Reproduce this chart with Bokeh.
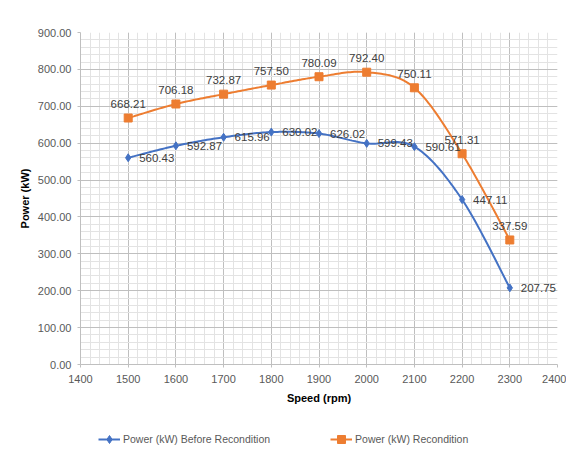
import numpy as np
from bokeh.plotting import figure
from bokeh.layouts import column
from bokeh.models import (SingleIntervalTicker, NumeralTickFormatter, Legend, LegendItem,
                          ColumnDataSource, Range1d, LabelSet)
from bokeh.core.properties import value
from bokeh.embed import file_html
from bokeh.resources import INLINE

speed = [1500, 1600, 1700, 1800, 1900, 2000, 2100, 2200, 2300]
power_before = [560.43, 592.87, 615.96, 630.02, 626.02, 599.43, 590.61, 447.11, 207.75]
power_recond = [668.21, 706.18, 732.87, 757.50, 780.09, 792.40, 750.11, 571.31, 337.59]
series_names = ["Power (kW) Before Recondition", "Power (kW) Recondition"]

BLUE = "#4472C4"
ORANGE = "#ED7D31"
FONT = "Liberation Sans"


def smooth(xs, ys, n=24):
    # Catmull-Rom style Bezier smoothing (like spreadsheet "smoothed line")
    xs = np.asarray(xs, float)
    ys = np.asarray(ys, float)
    px = np.concatenate([[xs[0]], xs, [xs[-1]]])
    py = np.concatenate([[ys[0]], ys, [ys[-1]]])
    ox, oy = [], []
    t = np.linspace(0, 1, n)
    for i in range(1, len(px) - 2):
        p0x, p1x, p2x, p3x = px[i - 1], px[i], px[i + 1], px[i + 2]
        p0y, p1y, p2y, p3y = py[i - 1], py[i], py[i + 1], py[i + 2]
        c1x = p1x + (p2x - p0x) / 6
        c1y = p1y + (p2y - p0y) / 6
        c2x = p2x - (p3x - p1x) / 6
        c2y = p2y - (p3y - p1y) / 6
        bx = (1 - t) ** 3 * p1x + 3 * (1 - t) ** 2 * t * c1x + 3 * (1 - t) * t ** 2 * c2x + t ** 3 * p2x
        by = (1 - t) ** 3 * p1y + 3 * (1 - t) ** 2 * t * c1y + 3 * (1 - t) * t ** 2 * c2y + t ** 3 * p2y
        ox.extend(bx.tolist())
        oy.extend(by.tolist())
    return ox, oy


p = figure(width=566, height=412, output_backend="svg", toolbar_location=None,
           x_range=Range1d(1400, 2400), y_range=Range1d(0, 900),
           min_border_left=80, min_border_right=9, min_border_top=32, min_border_bottom=48)
p.outline_line_color = None
p.border_fill_color = "white"

xt = SingleIntervalTicker(interval=100, num_minor_ticks=5)
yt = SingleIntervalTicker(interval=100, num_minor_ticks=5)
p.xaxis.ticker = xt
p.yaxis.ticker = yt
p.yaxis.formatter = NumeralTickFormatter(format="0.00")

for g in (p.xgrid, p.ygrid):
    g.grid_line_color = "#BFBFBF"
    g.grid_line_width = 1
    g.minor_grid_line_color = "#E3E3E3"
    g.minor_grid_line_width = 1
p.xgrid.ticker = xt
p.ygrid.ticker = yt

for ax in (p.xaxis, p.yaxis):
    ax.axis_line_color = "#BFBFBF"
    ax.major_tick_line_color = "#BFBFBF"
    ax.major_tick_out = 3
    ax.major_tick_in = 0
    ax.minor_tick_out = 0
    ax.minor_tick_in = 0
    ax.major_label_text_font = FONT
    ax.major_label_text_font_size = "11px"
    ax.major_label_text_color = "#595959"
    ax.axis_label_text_font = FONT
    ax.axis_label_text_font_size = "11px"
    ax.axis_label_text_font_style = "bold"
    ax.axis_label_text_color = "#000000"

p.xaxis.axis_label = "Speed (rpm)"
p.yaxis.axis_label = "Power (kW)"
p.xaxis.major_label_standoff = 7
p.yaxis.major_label_standoff = 6
p.xaxis.axis_label_standoff = 6
p.yaxis.axis_label_standoff = 4

bx, by = smooth(speed, power_before)
rx, ry = smooth(speed, power_recond)

p.line(bx, by, line_color=BLUE, line_width=2)
p.line(rx, ry, line_color=ORANGE, line_width=2)
p.scatter(speed, power_before, marker="diamond", size=8, fill_color=BLUE, line_color=BLUE)
p.scatter(speed, power_recond, marker="square", size=8, fill_color=ORANGE, line_color=ORANGE)

src_b = ColumnDataSource(dict(x=speed, y=power_before, t=[f"{v:.2f}" for v in power_before]))
src_r = ColumnDataSource(dict(x=speed, y=power_recond, t=[f"{v:.2f}" for v in power_recond]))

lab_b = LabelSet(x="x", y="y", text="t", source=src_b, x_offset=11, y_offset=0,
                 text_align="left", text_baseline="middle", text_font=value(FONT),
                 text_font_size=value("11.5px"), text_color="#404040")
lab_r = LabelSet(x="x", y="y", text="t", source=src_r, x_offset=0, y_offset=10,
                 text_align="center", text_baseline="bottom", text_font=value(FONT),
                 text_font_size=value("11.5px"), text_color="#404040")
p.add_layout(lab_b)
p.add_layout(lab_r)

# Legend strip below the chart (its renderers hold the same data, out of view)
q = figure(width=566, height=56, output_backend="svg", toolbar_location=None,
           x_range=Range1d(0, 1), y_range=Range1d(0, 1),
           x_axis_location=None, y_axis_location=None,
           min_border_left=0, min_border_right=0, min_border_top=0, min_border_bottom=0)
q.outline_line_color = None
q.grid.visible = False
g1 = q.line(speed, power_before, line_color=BLUE, line_width=2)
g2 = q.line(speed, power_recond, line_color=ORANGE, line_width=2)
s1 = q.scatter(speed, power_before, marker="diamond", size=8, fill_color=BLUE, line_color=BLUE)
s2 = q.scatter(speed, power_recond, marker="square", size=8, fill_color=ORANGE, line_color=ORANGE)

legend = Legend(items=[LegendItem(label=series_names[0], renderers=[g1, s1]),
                       LegendItem(label=series_names[1], renderers=[g2, s2])],
                orientation="horizontal", location=(18, 19),
                padding=0, margin=0, spacing=60, glyph_width=22, glyph_height=20,
                label_height=20, label_standoff=3,
                label_text_font=FONT, label_text_font_size="10.5px",
                label_text_color="#595959", border_line_color=None,
                background_fill_alpha=0)
q.add_layout(legend, "center")

open("out.html", "w").write(file_html(column(p, q), INLINE))
